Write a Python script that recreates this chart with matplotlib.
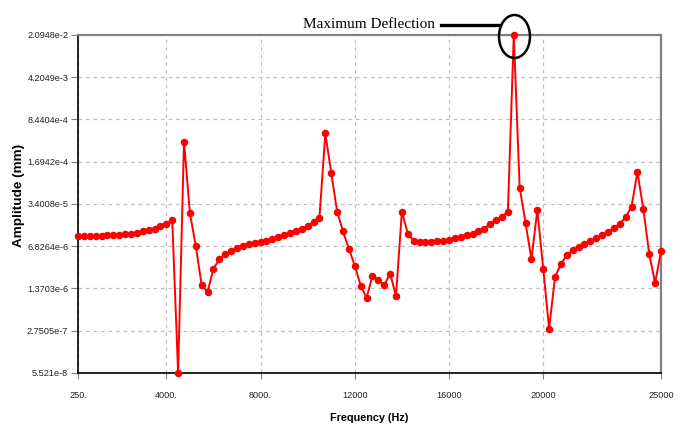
import numpy as np
import matplotlib
matplotlib.use("Agg")
import matplotlib.pyplot as plt
from matplotlib.patches import Ellipse
from matplotlib.lines import Line2D
from matplotlib.ticker import FixedLocator, FixedFormatter, NullLocator

# Frequencies (Hz): 250 Hz steps from 250 to 25000
frequency = [250 * k for k in range(1, 101)]

# Amplitude (mm)
amplitude = [
    1.00e-5, 1.00e-5, 1.00e-5, 1.00e-5, 1.00e-5, 1.036e-5, 1.036e-5, 1.053e-5, 1.070e-5, 1.105e-5,
    1.141e-5, 1.197e-5, 1.257e-5, 1.319e-5, 1.452e-5, 1.573e-5, 1.877e-5, 5.521e-8, 3.605e-4, 2.427e-5,
    6.826e-6, 1.558e-6, 1.205e-6, 2.914e-6, 4.150e-6, 5.113e-6, 5.630e-6, 6.300e-6, 6.937e-6, 7.397e-6,
    7.762e-6, 8.015e-6, 8.411e-6, 8.967e-6, 9.719e-6, 1.036e-5, 1.123e-5, 1.217e-5, 1.319e-5, 1.499e-5,
    1.705e-5, 2.034e-5, 4.970e-4, 1.116e-4, 2.547e-5, 1.197e-5, 6.201e-6, 3.261e-6, 1.533e-6, 9.625e-7,
    2.218e-6, 1.889e-6, 1.558e-6, 2.404e-6, 1.043e-6, 2.547e-5, 1.105e-5, 8.411e-6, 8.144e-6, 8.144e-6,
    8.144e-6, 8.276e-6, 8.411e-6, 8.686e-6, 9.262e-6, 9.719e-6, 1.036e-5, 1.105e-5, 1.197e-5, 1.340e-5,
    1.599e-5, 1.818e-5, 2.101e-5, 2.547e-5, 2.0948e-2, 6.363e-5, 1.651e-5, 4.150e-6, 2.716e-5, 2.914e-6,
    2.980e-7, 2.114e-6, 3.477e-6, 4.871e-6, 5.814e-6, 6.611e-6, 7.397e-6, 8.411e-6, 9.262e-6, 1.053e-5,
    1.160e-5, 1.362e-5, 1.599e-5, 2.067e-5, 3.089e-5, 1.152e-4, 2.805e-5, 5.113e-6, 1.688e-6, 5.630e-6,
]

x_ticks = [250, 4000, 8000, 12000, 16000, 20000, 25000]
x_tick_labels = ["250.", "4000.", "8000.", "12000", "16000", "20000", "25000"]
y_ticks = [5.521e-8, 2.7505e-7, 1.3703e-6, 6.8264e-6, 3.4008e-5, 1.6942e-4, 8.4404e-4, 4.2049e-3, 2.0948e-2]
y_tick_labels = ["5.521e-8", "2.7505e-7", "1.3703e-6", "6.8264e-6", "3.4008e-5",
                 "1.6942e-4", "8.4404e-4", "4.2049e-3", "2.0948e-2"]

W, H = 688, 432
fig = plt.figure(figsize=(W / 100, H / 100), dpi=100)
ax = fig.add_axes([78 / W, 1 - 373 / H, (661 - 78) / W, (373 - 35) / H])

ax.plot(frequency, amplitude, color="#ff0000", lw=1.4, marker="o", ms=4.4,
        markerfacecolor="#ff0000", markeredgecolor="#ff0000", clip_on=False, zorder=3)

ax.set_yscale("log")
ax.set_xlim(250, 25000)
ax.set_ylim(y_ticks[0], y_ticks[-1])

ax.xaxis.set_major_locator(FixedLocator(x_ticks))
ax.xaxis.set_major_formatter(FixedFormatter(x_tick_labels))
ax.xaxis.set_minor_locator(NullLocator())
ax.yaxis.set_major_locator(FixedLocator(y_ticks))
ax.yaxis.set_major_formatter(FixedFormatter(y_tick_labels))
ax.yaxis.set_minor_locator(NullLocator())

ax.grid(True, which="major", color="#c0c0c0", linestyle=(0, (3, 3)), linewidth=0.9)
ax.set_axisbelow(True)

for lab in ax.get_xticklabels() + ax.get_yticklabels():
    lab.set_fontfamily(["Liberation Sans", "DejaVu Sans"])
    lab.set_fontsize(6.6)
    lab.set_color("#222222")
ax.tick_params(axis="x", direction="out", length=4, width=0.8, color="#808080", pad=9)
ax.tick_params(axis="y", direction="out", length=5, width=0.8, color="#808080", pad=2)

for side in ("left", "bottom"):
    ax.spines[side].set_color("#000000")
    ax.spines[side].set_linewidth(1.2)
for side in ("top", "right"):
    ax.spines[side].set_color("#808080")
    ax.spines[side].set_linewidth(1.6)

ax.set_xlabel("Frequency (Hz)", fontfamily=["Liberation Sans", "DejaVu Sans"], fontweight="bold", fontsize=7.8)
ax.xaxis.set_label_coords(0.5, (373 - 413) / 338)
ax.set_ylabel("Amplitude (mm)", fontfamily=["Liberation Sans", "DejaVu Sans"], fontweight="bold", fontsize=9.7)
ax.yaxis.set_label_coords((25 - 78) / 583, (373 - 195) / 338)

# Annotation: "Maximum Deflection" with line and ellipse
fig.text(435 / W, 1 - 25 / H, "Maximum Deflection", ha="right", va="center",
         fontfamily=["Liberation Serif", "DejaVu Serif"], fontsize=11)
fig.add_artist(Line2D([441 / W, 499 / W], [1 - 25 / H, 1 - 25 / H],
                      color="black", lw=2.4, transform=fig.transFigure))
fig.add_artist(Ellipse((514.5 / W, 1 - 36.5 / H), 31 / W, 43 / H, fill=False,
                       edgecolor="black", lw=1.8, transform=fig.transFigure))

fig.savefig("out.png", dpi=100)
